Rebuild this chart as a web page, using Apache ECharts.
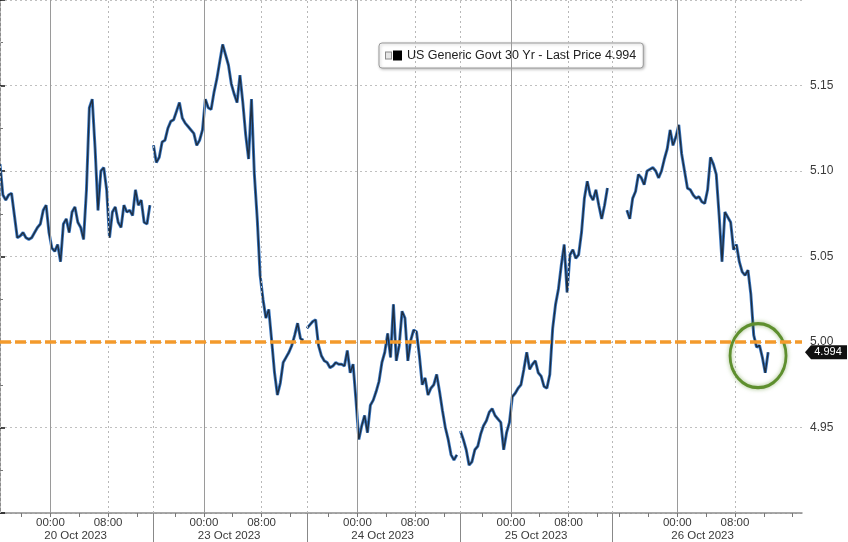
<!DOCTYPE html>
<html><head><meta charset="utf-8">
<script src="https://cdn.jsdelivr.net/npm/echarts@6/dist/echarts.min.js"></script>
<style>html,body{margin:0;padding:0;background:#fff}#c{width:848px;height:542px}</style>
</head><body><div id="c"></div>
<script>
// ---------- data ----------
const seriesName = 'US Generic Govt 30 Yr - Last Price 4.994';
const dayLabels = ['20 Oct 2023', '23 Oct 2023', '24 Oct 2023', '25 Oct 2023', '26 Oct 2023'];
// session open/close (hours relative to that day's midnight)
const sessionOpen = [-7, -7, -7, -7, -9];
const sessionClose = [14.3, 14.3, 14.3, 14.1, 17.3];
const dataStart = [-7, -7, -7, -7, -7];
const stepHours = 0.4;
const timeTickHours = [0, 8];
const timeTickLabels = ['00:00', '08:00'];
const dateLabelHour = 3.5;

const oct20 = [5.104, 5.086, 5.083, 5.086, 5.087, 5.074, 5.061, 5.062, 5.064, 5.061,
  5.060, 5.061, 5.064, 5.067, 5.069, 5.077, 5.080, 5.064, 5.055, 5.053,
  5.057, 5.047, 5.069, 5.072, 5.064, 5.076, 5.079, 5.070, 5.067, 5.060,
  5.089, 5.137, 5.142, 5.113, 5.077, 5.100, 5.102, 5.089, 5.061, 5.076,
  5.079, 5.070, 5.067, 5.080, 5.076, 5.077, 5.074, 5.089, 5.080, 5.083,
  5.070, 5.069, 5.080];
const oct23 = [5.115, 5.105, 5.108, 5.117, 5.118, 5.125, 5.129, 5.130, 5.135, 5.140,
  5.131, 5.128, 5.126, 5.124, 5.122, 5.115, 5.118, 5.124, 5.142, 5.137,
  5.136, 5.146, 5.154, 5.164, 5.174, 5.168, 5.162, 5.151, 5.145, 5.140,
  5.156, 5.140, 5.121, 5.107, 5.142, 5.098, 5.072, 5.039, 5.025, 5.014,
  5.019, 5.001, 4.982, 4.969, 4.976, 4.988, 4.991, 4.994, 4.998, 5.004,
  5.011, 5.002, 5.001];
const oct24 = [5.008, 5.010, 5.012, 5.013, 4.998, 4.992, 4.989, 4.988, 4.985, 4.986,
  4.988, 4.987, 4.987, 4.986, 4.995, 4.982, 4.987, 4.966, 4.943, 4.951,
  4.957, 4.947, 4.963, 4.966, 4.971, 4.977, 4.988, 4.994, 5.005, 4.991,
  5.022, 4.989, 4.998, 5.018, 5.014, 4.989, 5.001, 5.007, 5.006, 4.992,
  4.975, 4.979, 4.969, 4.973, 4.975, 4.981, 4.971, 4.960, 4.950, 4.943,
  4.934, 4.931, 4.934];
const oct25 = [4.948, 4.943, 4.937, 4.928, 4.930, 4.937, 4.939, 4.946, 4.951, 4.954,
  4.959, 4.961, 4.957, 4.955, 4.953, 4.937, 4.947, 4.953, 4.968, 4.970,
  4.973, 4.975, 4.984, 4.994, 4.984, 4.987, 4.989, 4.982, 4.980, 4.974,
  4.973, 4.981, 5.008, 5.022, 5.031, 5.045, 5.057, 5.029, 5.051, 5.054,
  5.049, 5.051, 5.064, 5.084, 5.094, 5.086, 5.083, 5.089, 5.080, 5.072,
  5.080, 5.090];
const oct26 = [5.077, 5.072, 5.084, 5.088, 5.098, 5.096, 5.092, 5.100, 5.101, 5.102,
  5.100, 5.096, 5.100, 5.107, 5.113, 5.124, 5.115, 5.120, 5.127, 5.110,
  5.100, 5.090, 5.089, 5.086, 5.084, 5.085, 5.082, 5.081, 5.089, 5.108,
  5.104, 5.098, 5.074, 5.047, 5.076, 5.073, 5.070, 5.054, 5.057, 5.047,
  5.041, 5.039, 5.042, 5.028, 5.004, 4.997, 4.998, 4.991, 4.982, 4.994];

const yMin = 4.90, yMax = 5.20, yInterval = 0.05;
const refLevel = 5.00;
const lastPrice = 4.994;
const highlightDay = 4, highlightHour = 11.2, highlightValue = 4.992;

// ---------- build ----------
const dayValues = [oct20, oct23, oct24, oct25, oct26];
let cum = 0;
const dayStartAxis = [], dayMid = [];
for (let d = 0; d < dayLabels.length; d++) {
  dayStartAxis.push(cum);
  dayMid.push(cum - sessionOpen[d]);
  cum += sessionClose[d] - sessionOpen[d];
}
const totalHours = cum;

const lineData = [];
dayValues.forEach((vals, d) => {
  if (d > 0) lineData.push([dayStartAxis[d], null]);
  vals.forEach((v, i) => lineData.push([dayMid[d] + dataStart[d] + i * stepHours, v]));
});

const tickVals = [];
for (let d = 0; d < dayLabels.length; d++) {
  for (let h = Math.ceil((sessionOpen[d] + 0.01) / 4) * 4; h < sessionClose[d]; h += 4) tickVals.push(dayMid[d] + h);
}
const labelMap = {};
const labelVals = [];
dayMid.forEach(m => timeTickHours.forEach((h, k) => {
  labelVals.push(m + h);
  labelMap[(m + h).toFixed(3)] = timeTickLabels[k];
}));
const dateMap = {};
const dateVals = dayMid.map((m, d) => { dateMap[(m + dateLabelHour).toFixed(3)] = dayLabels[d]; return m + dateLabelHour; });

const dotted = { color: '#b8b8b8', width: 1, type: [2, 3] };
const gridMarks = [];
dayMid.forEach(m => gridMarks.push({ xAxis: m, lineStyle: { color: '#9a9a9a', width: 1, type: 'solid' } }));
dayMid.forEach(m => gridMarks.push({ xAxis: m + 8, lineStyle: dotted }));
dayStartAxis.forEach(s => gridMarks.push({ xAxis: s, lineStyle: dotted }));

const font = 'Liberation Sans';
const baseX = { type: 'value', min: 0, max: totalHours, position: 'bottom', gridIndex: 0, splitLine: { show: false } };

const chart = echarts.init(document.getElementById('c'), null, { renderer: 'canvas' });
chart.setOption({
  animation: false,
  backgroundColor: '#ffffff',
  textStyle: { fontFamily: font },
  grid: { left: 0, right: 46, top: 0, bottom: 29, containLabel: false },
  legend: {
    data: [seriesName], left: 379, top: 43,
    icon: 'rect', itemWidth: 0, itemHeight: 0,
    backgroundColor: '#ffffff', borderColor: '#9a9a9a', borderWidth: 1, borderRadius: 3,
    padding: [6, 7, 6, 2],
    shadowBlur: 3, shadowColor: 'rgba(0,0,0,0.25)', shadowOffsetX: 1, shadowOffsetY: 1,
    formatter: n => '{g| }{s| }{k| }{s| }{t|' + n + '}',
    textStyle: {
      rich: {
        g: { width: 5, height: 6, backgroundColor: '#e6e6e6', borderColor: '#8a8a8a', borderWidth: 1 },
        s: { width: 2 },
        k: { width: 9, height: 10, backgroundColor: '#000' },
        t: { fontSize: 12.5, color: '#222', fontFamily: font, padding: [0, 0, 0, 3] }
      }
    }
  },
  xAxis: [
    Object.assign({}, baseX, {
      axisLine: { show: true, lineStyle: { color: '#8c8c8c', width: 1.5 } },
      axisTick: { show: true, customValues: tickVals, length: 4, lineStyle: { color: '#777' } },
      axisLabel: { customValues: labelVals, formatter: v => labelMap[v.toFixed(3)] || '', color: '#3a3a3a', fontSize: 11.5, margin: 4, fontFamily: font }
    }),
    Object.assign({}, baseX, {
      axisLine: { show: false },
      axisTick: { show: false },
      axisLabel: { customValues: dateVals, formatter: v => dateMap[v.toFixed(3)] || '', color: '#3a3a3a', fontSize: 11.5, margin: 17, fontFamily: font }
    }),
    Object.assign({}, baseX, {
      axisLine: { show: false },
      axisTick: { show: true, customValues: dayStartAxis.slice(1), length: 29, lineStyle: { color: '#888' } },
      axisLabel: { show: false }
    })
  ],
  yAxis: {
    type: 'value', position: 'right', min: yMin, max: yMax, interval: yInterval,
    axisLine: { show: true, lineStyle: { color: '#8c8c8c', width: 2 } },
    axisTick: { show: true, length: 5, lineStyle: { color: '#111', width: 1.5 } },
    minorTick: { show: true, splitNumber: 2, length: 3, lineStyle: { color: '#777' } },
    axisLabel: { formatter: v => v.toFixed(2), color: '#3a3a3a', fontSize: 12, margin: 8, showMinLabel: false, showMaxLabel: false, fontFamily: font },
    splitLine: { show: true, lineStyle: { color: '#c0c0c0', width: 1, type: [2, 3] } }
  },
  series: [
    {
      name: 'grid', type: 'line', data: [], silent: true, z: 1,
      markLine: { silent: true, symbol: ['none', 'none'], label: { show: false }, data: gridMarks, animation: false }
    },
    {
      name: seriesName, type: 'line', data: lineData, symbol: 'none', showSymbol: false,
      connectNulls: false, z: 3, lineStyle: { color: '#3a78c3', width: 3 }, itemStyle: { color: '#000' }
    },
    {
      name: 'overlay', type: 'line', data: lineData, symbol: 'none', showSymbol: false,
      connectNulls: false, z: 4, silent: true, lineStyle: { color: '#151515', width: 1.4, opacity: 0.75 }
    },
    {
      name: 'ref', type: 'line', data: [[0, refLevel], [totalHours, refLevel]], symbol: 'none', z: 5, clip: false,
      lineStyle: { color: '#f39a2c', width: 3.5, type: [11, 4] },
      markPoint: {
        silent: true,
        data: [
          {
            coord: [totalHours, lastPrice], symbol: 'path://M0,7 L6,0 L42,0 L42,14 L6,14 Z',
            symbolSize: [42, 14], symbolOffset: [24, 0],
            itemStyle: { color: '#111' },
            label: { show: true, formatter: lastPrice.toFixed(3), color: '#fff', fontSize: 11, position: 'inside', offset: [2, 0], fontFamily: font }
          },
          {
            coord: [dayMid[highlightDay] + highlightHour, highlightValue], symbol: 'circle',
            symbolSize: [56, 64],
            itemStyle: { color: 'rgba(0,0,0,0)', borderColor: '#5e8f2e', borderWidth: 3, shadowBlur: 4, shadowColor: 'rgba(94,143,46,0.6)' },
            label: { show: false }
          }
        ]
      }
    }
  ]
});
</script></body></html>
